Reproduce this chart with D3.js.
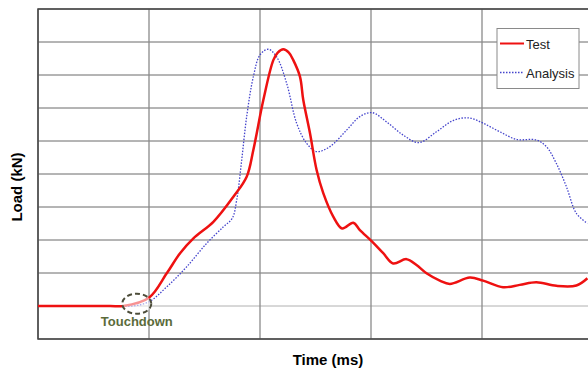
<!DOCTYPE html>
<html>
<head>
<meta charset="utf-8">
<script src="https://cdn.jsdelivr.net/npm/d3@7"></script>
<style>
  body { margin: 0; background: #fff; }
  svg { display: block; font-family: "Liberation Sans", Arial, sans-serif; }
  .grid line { stroke: #7a7a7a; stroke-width: 1; }
  .label { font-weight: bold; font-size: 15px; fill: #000; }
  .legend text { font-size: 13px; fill: #222; }
</style>
</head>
<body>
<script>
//Global variables
const width = 588;
const height = 369;
const margin = {left: 38, top: 9, right: -5, bottom: 30};

//Test load (red) - time, load
const testTime = [0, 3.5, 6.5, 7.7, 10.0, 11.6, 12.8, 14.0, 15.8, 17.6, 18.8, 19.4, 20.3, 21.2, 21.6, 22.1, 22.6, 23.0, 23.6, 23.9, 24.5, 25.1, 25.7, 26.6, 27.4, 28.4, 29.0, 30.1, 31.1, 32.0, 33.2, 34.1, 35.0, 36.2, 37.1, 38.9, 40.1, 41.9, 43.4, 44.9, 46.7, 48.5, 49.5];
const testLoad = [1.0, 1.0, 1.0, 1.0, 1.25, 1.99, 2.6, 3.05, 3.55, 4.31, 4.92, 5.73, 7.24, 8.45, 8.68, 8.78, 8.68, 8.45, 7.95, 7.24, 6.24, 5.12, 4.42, 3.71, 3.35, 3.52, 3.3, 2.95, 2.6, 2.29, 2.42, 2.24, 1.99, 1.77, 1.67, 1.86, 1.77, 1.57, 1.64, 1.72, 1.61, 1.62, 1.84];

//Analysis load (blue dotted)
const anaTime = [0, 3.5, 6.5, 8.5, 10.0, 11.6, 13.4, 15.2, 16.7, 17.5, 17.9, 18.35, 18.8, 19.4, 20.0, 20.75, 21.5, 22.4, 23.3, 24.2, 25.1, 26.3, 27.8, 29.0, 30.1, 31.4, 32.9, 34.3, 35.9, 37.4, 38.8, 40.1, 41.6, 43.1, 44.9, 45.8, 46.7, 47.6, 48.5, 49.5];
const anaLoad = [1.0, 1.0, 1.0, 1.0, 1.13, 1.58, 2.19, 2.9, 3.4, 3.66, 4.21, 5.42, 6.74, 7.95, 8.61, 8.78, 8.55, 7.75, 6.54, 5.93, 5.68, 5.83, 6.33, 6.74, 6.86, 6.58, 6.18, 5.95, 6.28, 6.62, 6.7, 6.54, 6.28, 6.05, 6.03, 5.83, 5.32, 4.62, 3.81, 3.5];

//Grid ticks (no labels shown on the chart)
const timeTicks = [0, 10, 20, 30, 40, 50];
const loadTicks = [0, 1, 2, 3, 4, 5, 6, 7, 8, 9, 10];

//Touchdown marker
const touchdown = {time: 8.9, load: 1.07, label: "Touchdown"};

const seriesNames = ["Test", "Analysis"];

const test = testTime.map((t, i) => ({t: t, v: testLoad[i]}));
const analysis = anaTime.map((t, i) => ({t: t, v: anaLoad[i]}));

//Scales
const xScale = d3.scaleLinear()
    .domain([0, 50])
    .range([margin.left, width - margin.right]);

const yScale = d3.scaleLinear()
    .domain([0, 10])
    .range([height - margin.bottom, margin.top]);

//SVG element
const svg = d3.select("body")
    .append("svg")
    .attr("width", width)
    .attr("height", height);

//Grid
const grid = svg.append("g").attr("class", "grid");

grid.selectAll(".h")
    .data(loadTicks)
    .join("line")
    .attr("x1", xScale(0))
    .attr("x2", xScale(50))
    .attr("y1", d => yScale(d))
    .attr("y2", d => yScale(d))
    .style("stroke", d => d === 1 ? "#b0b0b0" : "#6a6a6a");

grid.selectAll(".v")
    .data(timeTicks)
    .join("line")
    .attr("x1", d => xScale(d))
    .attr("x2", d => xScale(d))
    .attr("y1", yScale(0))
    .attr("y2", yScale(10))
    .style("stroke", "#8a8a8a")
    .style("stroke-width", 1.3);

//Plot frame
svg.append("path")
    .attr("d", `M${xScale(50)},${yScale(10)}H${xScale(0)}V${yScale(0)}H${xScale(50)}`)
    .attr("fill", "none")
    .attr("stroke", "#444")
    .attr("stroke-width", 1.5);

//Line generator
const line = d3.line()
    .x(d => xScale(d.t))
    .y(d => yScale(d.v))
    .curve(d3.curveCatmullRom.alpha(0.5));

svg.append("path")
    .datum(analysis)
    .attr("d", line)
    .attr("fill", "none")
    .attr("stroke", "#4444cc")
    .attr("stroke-width", 1.3)
    .attr("stroke-dasharray", "1.5,1.5");

svg.append("path")
    .datum(test)
    .attr("d", line)
    .attr("fill", "none")
    .attr("stroke", "#ee1111")
    .attr("stroke-width", 2.5);

//Touchdown ellipse + label
svg.append("ellipse")
    .attr("cx", xScale(touchdown.time))
    .attr("cy", yScale(touchdown.load))
    .attr("rx", 14.5)
    .attr("ry", 10)
    .attr("fill", "#fff")
    .attr("fill-opacity", 0.55)
    .attr("stroke", "#4d4d3a")
    .attr("stroke-width", 2)
    .attr("stroke-dasharray", "5,3");

svg.append("text")
    .attr("x", xScale(touchdown.time))
    .attr("y", yScale(touchdown.load) + 22)
    .attr("text-anchor", "middle")
    .style("font-size", "13px")
    .style("font-weight", "bold")
    .style("fill", "#5b6b3a")
    .text(touchdown.label);

//Legend
const legend = svg.append("g").attr("class", "legend");

legend.append("rect")
    .attr("x", 497)
    .attr("y", 28.5)
    .attr("width", 82)
    .attr("height", 60)
    .attr("fill", "#fff")
    .attr("stroke", "#8a8a8a");

const legendStyles = [
    {stroke: "#ee1111", width: 2, dash: null},
    {stroke: "#4444cc", width: 1.3, dash: "1.5,1.5"}
];

seriesNames.forEach((name, i) => {
    const y = 43.5 + i * 29;
    legend.append("line")
        .attr("x1", 500).attr("x2", 524)
        .attr("y1", y).attr("y2", y)
        .attr("stroke", legendStyles[i].stroke)
        .attr("stroke-width", legendStyles[i].width)
        .attr("stroke-dasharray", legendStyles[i].dash);
    legend.append("text")
        .attr("x", 526)
        .attr("y", y + 5)
        .text(name);
});

//Axis labels
svg.append("text")
    .attr("class", "label")
    .attr("x", 328)
    .attr("y", 365)
    .attr("text-anchor", "middle")
    .text("Time (ms)");

svg.append("text")
    .attr("class", "label")
    .attr("transform", "translate(22,187) rotate(-90)")
    .attr("text-anchor", "middle")
    .text("Load (kN)");
</script>
</body>
</html>
